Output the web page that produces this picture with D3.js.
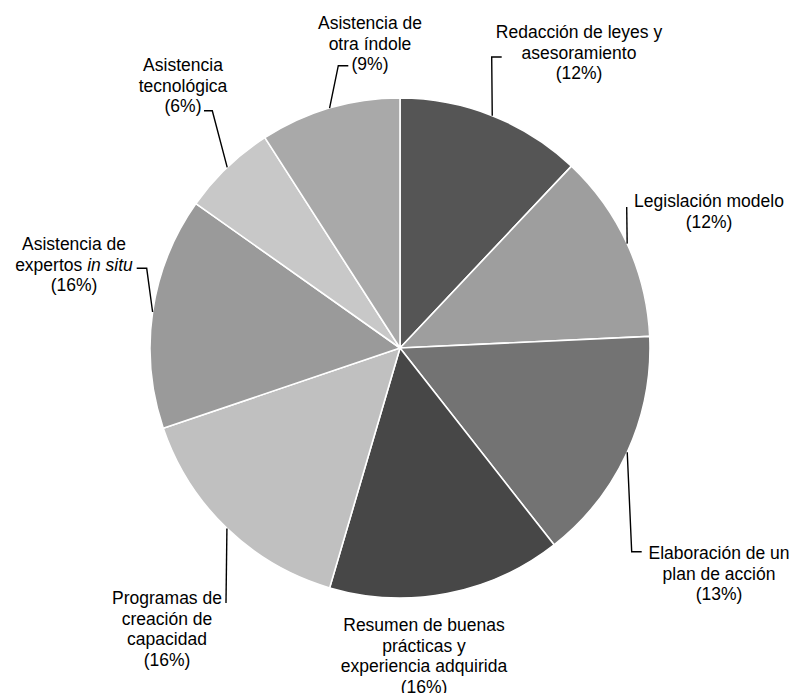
<!DOCTYPE html>
<html>
<head>
<meta charset="utf-8">
<script src="https://cdn.jsdelivr.net/npm/d3@7"></script>
<style>
  html, body { margin: 0; padding: 0; background: #fff; }
  svg { display: block; }
  text { font-family: "Liberation Sans", Arial, sans-serif; font-size: 17.5px; fill: #000; }
</style>
</head>
<body>
<svg id="chart" width="793" height="693"></svg>
<script>
// ---- data ----
const categories = [
  "Redacción de leyes y asesoramiento",
  "Legislación modelo",
  "Elaboración de un plan de acción",
  "Resumen de buenas prácticas y experiencia adquirida",
  "Programas de creación de capacidad",
  "Asistencia de expertos in situ",
  "Asistencia tecnológica",
  "Asistencia de otra índole"
];
const values = [12.03, 12.23, 15.17, 15.11, 15.26, 15.00, 6.11, 9.09];
const pctLabels = ["(12%)", "(12%)", "(13%)", "(16%)", "(16%)", "(16%)", "(6%)", "(9%)"];
const labelLines = [
  [["Redacción de leyes y"], ["asesoramiento"]],
  [["Legislación modelo"]],
  [["Elaboración de un"], ["plan de acción"]],
  [["Resumen de buenas"], ["prácticas y"], ["experiencia adquirida"]],
  [["Programas de"], ["creación de"], ["capacidad"]],
  [["Asistencia de"], ["expertos ", "in situ"]],
  [["Asistencia"], ["tecnológica"]],
  [["Asistencia de"], ["otra índole"]]
];

// ---- layout / style ----
const colors = ["#555555", "#9e9e9e", "#737373", "#474747", "#c0c0c0", "#9a9a9a", "#c8c8c8", "#a9a9a9"];
const cx = 400, cy = 348, R = 250;
const lineH = 20.7;
const labelPos = [
  {x: 579, y: 38},
  {x: 709, y: 207},
  {x: 719, y: 559},
  {x: 424, y: 631},
  {x: 167, y: 604},
  {x: 74,  y: 250},
  {x: 183, y: 71},
  {x: 370, y: 29}
];
const leaderPts = [
  [[491.7, 57], [501.7, 57]],
  [[626.7, 207]],
  [[631.7, 551.7], [641.7, 551.7]],
  null,
  [[226, 603]],
  [[146.7, 268.3], [136.7, 268.3]],
  [[212.3, 110.7], [204, 110.7]],
  [[338.3, 65.7], [348.3, 65.7]]
];

const svg = d3.select("#chart");
const g = svg.append("g").attr("transform", `translate(${cx},${cy})`);

const pie = d3.pie().sort(null).value(d => d);
const arcs = pie(values);
const arc = d3.arc().innerRadius(0).outerRadius(R);

g.selectAll("path.slice")
  .data(arcs)
  .join("path")
  .attr("class", "slice")
  .attr("d", arc)
  .attr("fill", (d, i) => colors[i])
  .attr("stroke", "#ffffff")
  .attr("stroke-width", 1.6)
  .attr("stroke-linejoin", "round");

// leader lines from slice mid-angle on the rim
arcs.forEach((a, i) => {
  const pts = leaderPts[i];
  if (!pts) return;
  const mid = (a.startAngle + a.endAngle) / 2;
  const ex = cx + R * Math.sin(mid);
  const ey = cy - R * Math.cos(mid);
  const all = [[ex, ey]].concat(pts);
  svg.append("path")
    .attr("d", d3.line()(all))
    .attr("fill", "none")
    .attr("stroke", "#000")
    .attr("stroke-width", 1.4);
});

// labels
categories.forEach((c, i) => {
  const p = labelPos[i];
  const t = svg.append("text")
    .attr("text-anchor", "middle")
    .attr("x", p.x)
    .attr("y", p.y);
  const lines = labelLines[i].concat([[pctLabels[i]]]);
  lines.forEach((parts, li) => {
    parts.forEach((part, pi) => {
      const ts = t.append("tspan").text(part);
      if (pi === 0) ts.attr("x", p.x).attr("y", p.y + li * lineH);
      if (pi === 1) ts.attr("font-style", "italic");
    });
  });
});
</script>
</body>
</html>
